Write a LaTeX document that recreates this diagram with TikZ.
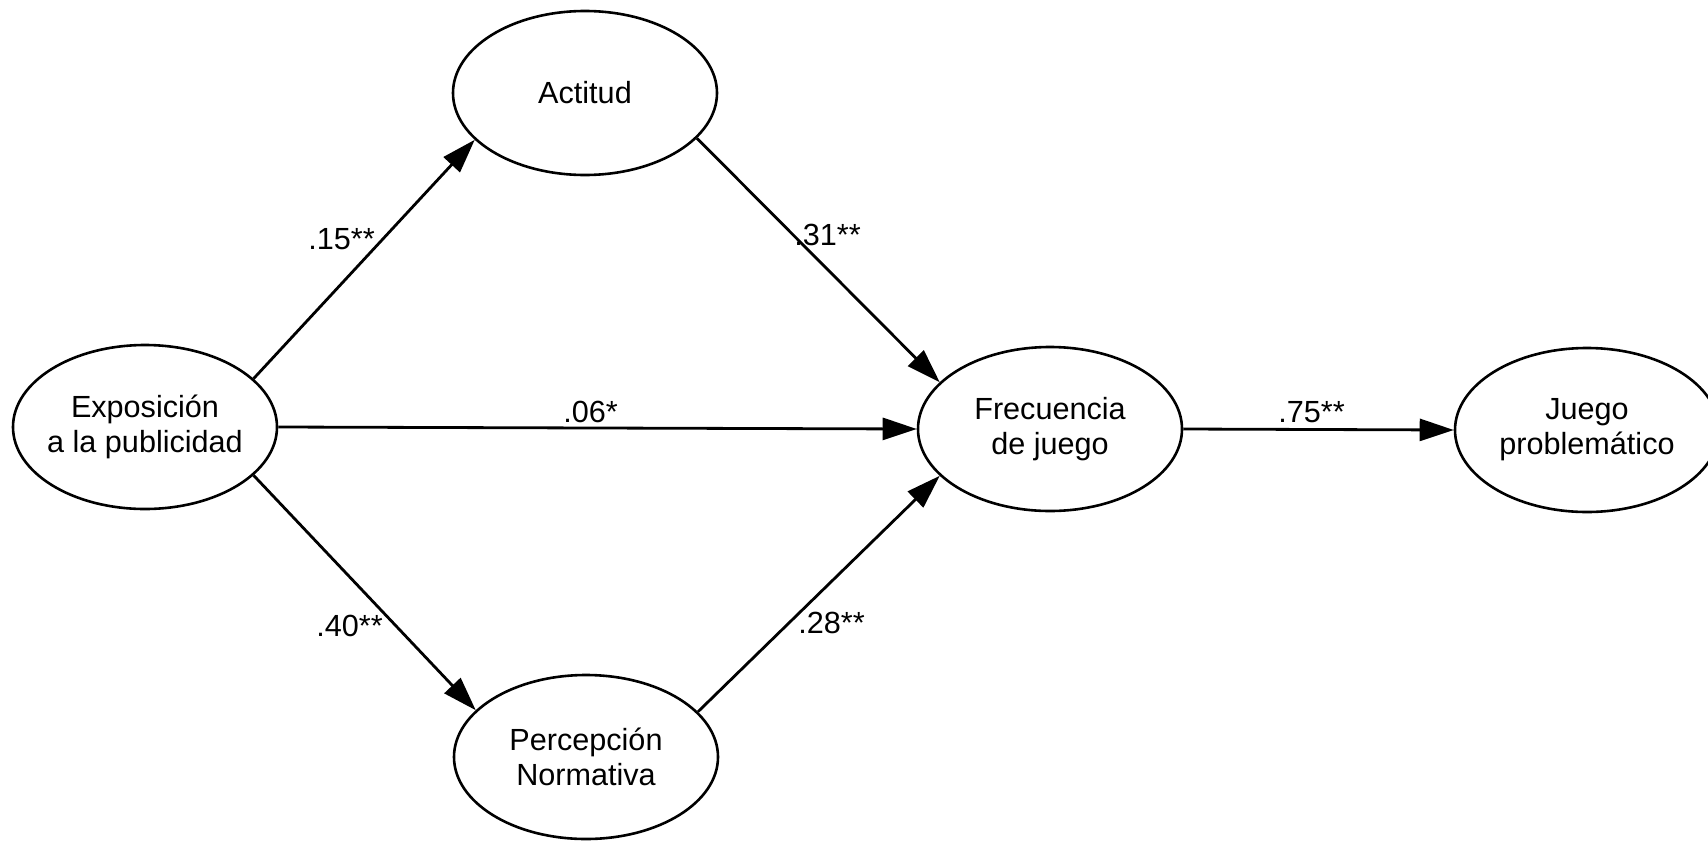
\documentclass[tikz,border=0pt]{standalone}
\usepackage{fontspec}
\setmainfont{Liberation Sans}
\usetikzlibrary{arrows.meta,shapes.geometric}
\begin{document}
\begin{tikzpicture}[x=0.5pt,y=-0.5pt,
  var/.style={ellipse,draw,line width=1.3pt,minimum width=132pt,minimum height=82pt,inner xsep=-10pt,inner ysep=0pt,align=center,font=\fontsize{15.3}{17.5}\selectfont},
  path/.style={line width=1.4pt,-{Triangle[length=17pt,width=11pt]}},
  coef/.style={anchor=base west,inner sep=0pt,font=\fontsize{15.3}{17.5}\selectfont}]
\useasboundingbox (0,0) rectangle (1708,841);
\node[var] (expo) at (145,427) {Exposición\\a la publicidad};
\node[var] (act) at (585,93) {Actitud};
\node[var] (perc) at (586,757) {Percepción\\Normativa};
\node[var] (frec) at (1050,429) {Frecuencia\\de juego};
\node[var] (juego) at (1587,430) {Juego\\problemático};
\draw[path] (expo.24) -- (act.203);
\draw[path] (expo.-24) -- (perc.157);
\draw[path] (expo.east) -- (frec.west);
\draw[path] (act.-22) -- (frec.157);
\draw[path] (perc.22) -- (frec.-157);
\draw[path] (frec.east) -- (juego.west);
\node[coef] (c1) at (308,249) {.15**};
\node[coef] (c2) at (794,245) {.31**};
\node[coef] (c3) at (316,636) {.40**};
\node[coef] (c4) at (798,633) {.28**};
\node[coef] (c5) at (563,422) {.06*};
\node[coef] (c6) at (1278,422) {.75**};
\end{tikzpicture}
\end{document}
